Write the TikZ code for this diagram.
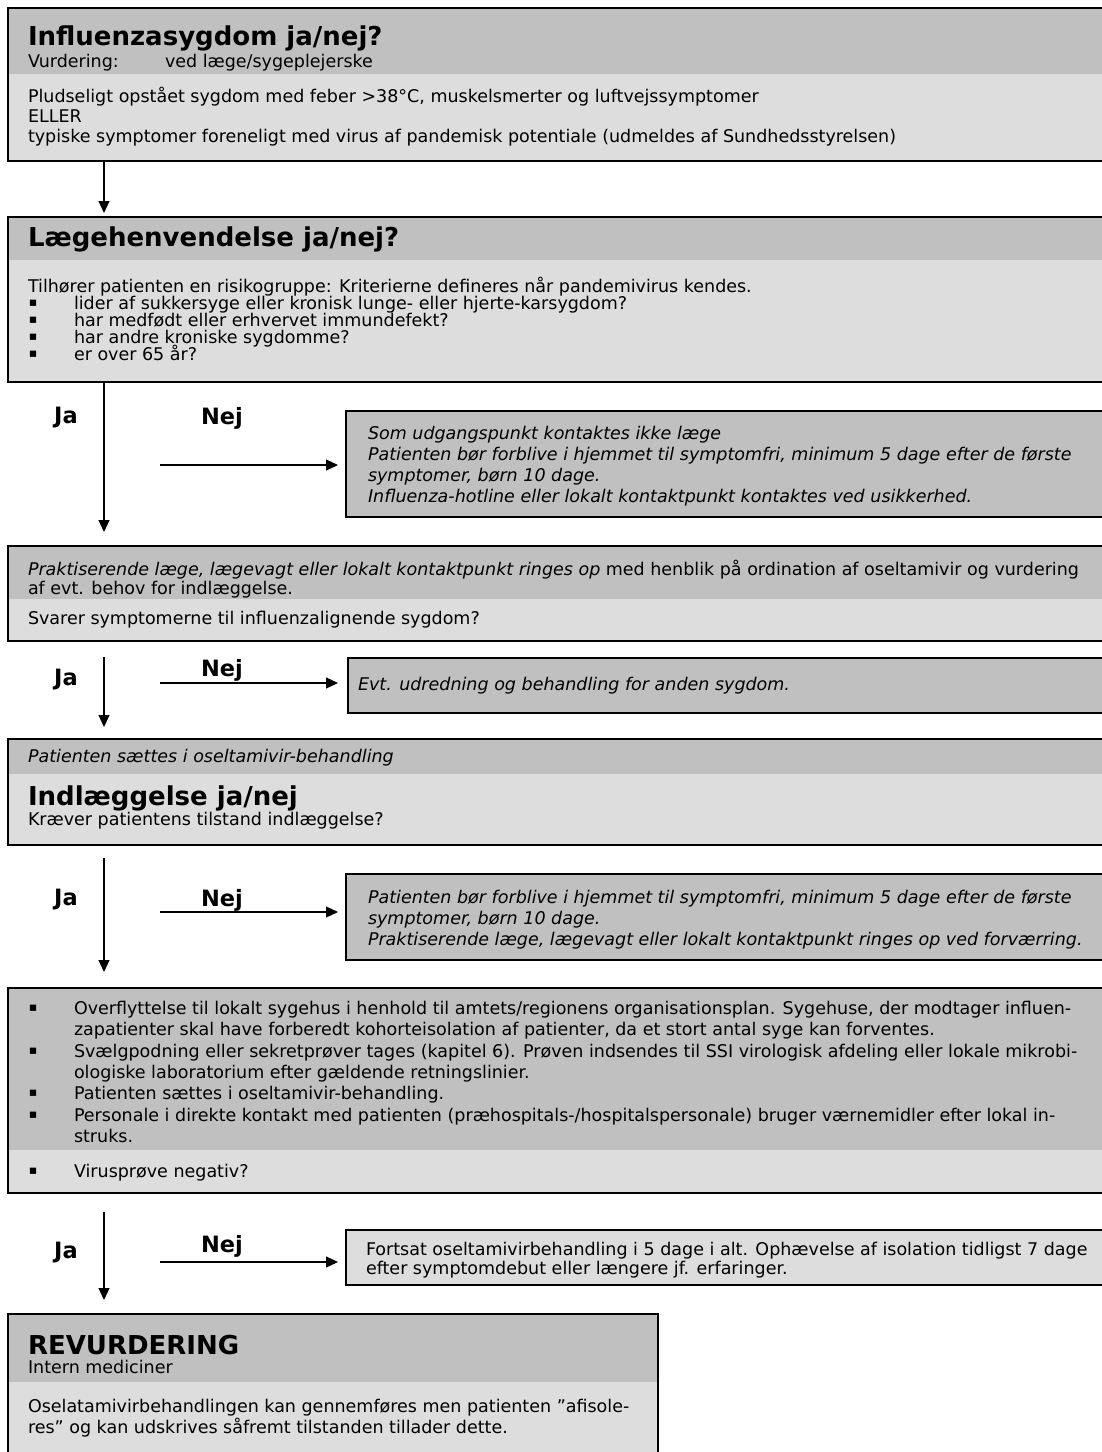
\documentclass[tikz,border=0pt]{standalone}
\usepackage{fontspec}
\setmainfont{DejaVu Sans}
\usetikzlibrary{arrows.meta}
\definecolor{hdr}{RGB}{192,192,192}
\definecolor{lite}{RGB}{221,221,221}
\newcommand\bodyfont{\fontsize{17.5}{20}\selectfont}
\newcommand\bulfont{\fontsize{12.5}{14}\selectfont}
\newcommand\titlefont{\fontsize{26}{30}\selectfont\bfseries}
\newcommand\jnfont{\fontsize{22.5}{26}\selectfont\bfseries}
\tikzset{
  txt/.style={anchor=base west,inner sep=0pt,outer sep=0pt,font=\bodyfont},
  itx/.style={txt,font=\bodyfont\itshape},
  ttl/.style={anchor=base west,inner sep=0pt,outer sep=0pt,font=\titlefont},
  bul/.style={anchor=base,inner sep=0pt,outer sep=0pt,font=\bulfont,yshift=2.5pt},
  frame/.style={draw=black,line width=1.5pt,inner sep=0pt,outer sep=0pt,anchor=north west},
  arr/.style={line width=1.2pt,-{Triangle[length=12pt,width=11pt]}},
  jn/.style={inner sep=0pt,outer sep=0pt,font=\jnfont}
}
\begin{document}
\begin{tikzpicture}[x=1pt,y=-1pt]
\useasboundingbox (0,0) rectangle (1102,1452);
\fill[white] (0,0) rectangle (1102,1452);

% ---------- Box 1
\fill[hdr] (8,8) rectangle (1106,74);
\fill[lite] (8,74) rectangle (1106,161);
\node[frame,minimum width=1098pt,minimum height=153pt] (b1) at (8,8) {};
\node[ttl] (b1t) at (28,45) {Influenzasygdom ja/nej?};
\node[txt] (b1v) at (28,67) {Vurdering:};
\node[txt] (b1w) at (165,67) {ved læge/sygeplejerske};
\node[txt] (b1a) at (28,102) {Pludseligt opstået sygdom med feber >38°C, muskelsmerter og luftvejssymptomer};
\node[txt] (b1b) at (28,122) {ELLER};
\node[txt] (b1c) at (28,142) {typiske symptomer foreneligt med virus af pandemisk potentiale (udmeldes af Sundhedsstyrelsen)};

% ---------- Box 2
\fill[hdr] (8,217) rectangle (1106,260);
\fill[lite] (8,260) rectangle (1106,382);
\node[frame,minimum width=1098pt,minimum height=165pt] (b2) at (8,217) {};
\node[ttl] (b2t) at (28,246) {Lægehenvendelse ja/nej?};
\node[txt] (b2a) at (28,292) {Tilhører patienten en risikogruppe: Kriterierne defineres når pandemivirus kendes.};
\node[bul] (b2p1) at (33,309) {▪};
\node[txt] (b2b) at (74,309) {lider af sukkersyge eller kronisk lunge- eller hjerte-karsygdom?};
\node[bul] (b2p2) at (33,326) {▪};
\node[txt] (b2c) at (74,326) {har medfødt eller erhvervet immundefekt?};
\node[bul] (b2p3) at (33,343) {▪};
\node[txt] (b2d) at (74,343) {har andre kroniske sygdomme?};
\node[bul] (b2p4) at (33,360) {▪};
\node[txt] (b2e) at (74,360) {er over 65 år?};

% ---------- Side box 1
\fill[hdr] (346,411) rectangle (1106,517);
\node[frame,minimum width=760pt,minimum height=106pt] (s1) at (346,411) {};
\node[itx] (s1a) at (368,439) {Som udgangspunkt kontaktes ikke læge};
\node[itx] (s1b) at (368,460) {Patienten bør forblive i hjemmet til symptomfri, minimum 5 dage efter de første};
\node[itx] (s1c) at (368,481) {symptomer, børn 10 dage.};
\node[itx] (s1d) at (368,502) {Influenza-hotline eller lokalt kontaktpunkt kontaktes ved usikkerhed.};

% ---------- Box 3
\fill[hdr] (8,546) rectangle (1106,599);
\fill[lite] (8,599) rectangle (1106,641);
\node[frame,minimum width=1098pt,minimum height=95pt] (b3) at (8,546) {};
\node[txt] (b3a) at (28,575) {{\itshape Praktiserende læge, lægevagt eller lokalt kontaktpunkt ringes op} med henblik på ordination af oseltamivir og vurdering};
\node[txt] (b3b) at (28,594) {af evt. behov for indlæggelse.};
\node[txt] (b3c) at (28,624) {Svarer symptomerne til influenzalignende sygdom?};

% ---------- Side box 2
\fill[hdr] (348,658) rectangle (1106,713);
\node[frame,minimum width=758pt,minimum height=55pt] (s2) at (348,658) {};
\node[itx] (s2a) at (358,690) {Evt. udredning og behandling for anden sygdom.};

% ---------- Box 4
\fill[hdr] (8,739) rectangle (1106,774);
\fill[lite] (8,774) rectangle (1106,845);
\node[frame,minimum width=1098pt,minimum height=106pt] (b4) at (8,739) {};
\node[itx] (b4a) at (28,762) {Patienten sættes i oseltamivir-behandling};
\node[ttl] (b4t) at (28,805) {Indlæggelse ja/nej};
\node[txt] (b4b) at (28,825) {Kræver patientens tilstand indlæggelse?};

% ---------- Side box 3
\fill[hdr] (346,874) rectangle (1106,960);
\node[frame,minimum width=760pt,minimum height=86pt] (s3) at (346,874) {};
\node[itx] (s3a) at (368,903) {Patienten bør forblive i hjemmet til symptomfri, minimum 5 dage efter de første};
\node[itx] (s3b) at (368,924) {symptomer, børn 10 dage.};
\node[itx] (s3c) at (368,945) {Praktiserende læge, lægevagt eller lokalt kontaktpunkt ringes op ved forværring.};

% ---------- Box 5
\fill[hdr] (8,988) rectangle (1106,1150);
\fill[lite] (8,1150) rectangle (1106,1193);
\node[frame,minimum width=1098pt,minimum height=205pt] (b5) at (8,988) {};
\node[bul] (b5p1) at (33,1014) {▪};
\node[txt] (b5a) at (74,1014) {Overflyttelse til lokalt sygehus i henhold til amtets/regionens organisationsplan. Sygehuse, der modtager influen-};
\node[txt] (b5b) at (74,1035) {zapatienter skal have forberedt kohorteisolation af patienter, da et stort antal syge kan forventes.};
\node[bul] (b5p2) at (33,1057) {▪};
\node[txt] (b5c) at (74,1057) {Svælgpodning eller sekretprøver tages (kapitel 6). Prøven indsendes til SSI virologisk afdeling eller lokale mikrobi-};
\node[txt] (b5d) at (74,1078) {ologiske laboratorium efter gældende retningslinier.};
\node[bul] (b5p3) at (33,1099) {▪};
\node[txt] (b5e) at (74,1099) {Patienten sættes i oseltamivir-behandling.};
\node[bul] (b5p4) at (33,1121) {▪};
\node[txt] (b5f) at (74,1121) {Personale i direkte kontakt med patienten (præhospitals-/hospitalspersonale) bruger værnemidler efter lokal in-};
\node[txt] (b5g) at (74,1142) {struks.};
\node[bul] (b5p5) at (33,1177) {▪};
\node[txt] (b5h) at (74,1177) {Virusprøve negativ?};

% ---------- Side box 4
\fill[lite] (346,1230) rectangle (1106,1285);
\node[frame,minimum width=760pt,minimum height=55pt] (s4) at (346,1230) {};
\node[txt] (s4a) at (366,1255) {Fortsat oseltamivirbehandling i 5 dage i alt. Ophævelse af isolation tidligst 7 dage};
\node[txt] (s4b) at (366,1274) {efter symptomdebut eller længere jf. erfaringer.};

% ---------- Box 6
\fill[hdr] (8,1314) rectangle (658,1382);
\fill[lite] (8,1382) rectangle (658,1470);
\node[frame,minimum width=650pt,minimum height=156pt] (b6) at (8,1314) {};
\node[ttl] (b6t) at (28,1354) {REVURDERING};
\node[txt] (b6a) at (28,1373) {Intern mediciner};
\node[txt] (b6b) at (28,1412) {Oselatamivirbehandlingen kan gennemføres men patienten ”afisole-};
\node[txt] (b6c) at (28,1433) {res” og kan udskrives såfremt tilstanden tillader dette.};

% ---------- Connectors
\coordinate (x1) at (104,0);
\draw[arr,shorten >=4pt] (b1.south -| x1) -- (b2.north -| x1);
\draw[arr,shorten >=14pt] (b2.south -| x1) -- (b3.north -| x1);
\coordinate (c3) at (104,657);
\draw[arr,shorten >=12pt] (c3) -- (b4.north -| x1);
\coordinate (c4) at (104,858);
\draw[arr,shorten >=16pt] (c4) -- (b5.north -| x1);
\coordinate (c5) at (104,1212);
\draw[arr,shorten >=14pt] (c5) -- (b6.north -| x1);

\coordinate (n1) at (160,465);
\draw[arr,shorten >=8pt] (n1) -- (s1.west |- n1);
\coordinate (n2) at (160,683);
\draw[arr,shorten >=10pt] (n2) -- (s2.west |- n2);
\coordinate (n3) at (160,912);
\draw[arr,shorten >=8pt] (n3) -- (s3.west |- n3);
\coordinate (n4) at (160,1262);
\draw[arr,shorten >=8pt] (n4) -- (s4.west |- n4);

% ---------- Ja / Nej labels
\node[jn] (ja1) at (66,418) {Ja};
\node[jn] (nej1) at (222,418) {Nej};
\node[jn] (ja2) at (66,680) {Ja};
\node[jn] (nej2) at (222,670) {Nej};
\node[jn] (ja3) at (66,900) {Ja};
\node[jn] (nej3) at (222,900) {Nej};
\node[jn] (ja4) at (66,1253) {Ja};
\node[jn] (nej4) at (222,1246) {Nej};
\end{tikzpicture}
\end{document}
